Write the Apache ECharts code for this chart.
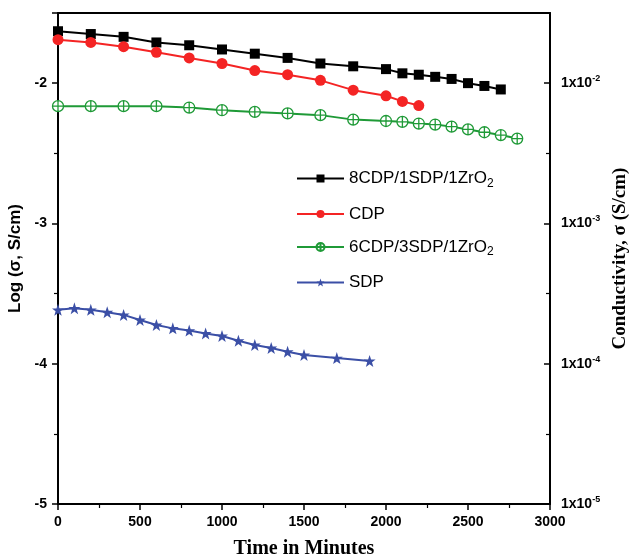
<!DOCTYPE html>
<html>
<head>
<meta charset="utf-8">
<script src="https://cdn.jsdelivr.net/npm/echarts@6/dist/echarts.min.js"></script>
<style>html,body{margin:0;padding:0;background:#fff}#c{width:635px;height:558px}</style>
</head>
<body>
<div id="c"></div>
<script>
// Time (minutes)
const timeA = [0,200,400,600,800,1000,1200,1400,1600,1800,2000,2100,2200,2300,2400,2500,2600,2700];
const logA  = [-1.63,-1.65,-1.67,-1.71,-1.73,-1.76,-1.79,-1.82,-1.86,-1.88,-1.90,-1.93,-1.94,-1.955,-1.97,-2.00,-2.02,-2.045];

const timeB = [0,200,400,600,800,1000,1200,1400,1600,1800,2000,2100,2200];
const logB  = [-1.69,-1.71,-1.74,-1.78,-1.82,-1.86,-1.91,-1.94,-1.98,-2.05,-2.09,-2.13,-2.16];

const timeC = [0,200,400,600,800,1000,1200,1400,1600,1800,2000,2100,2200,2300,2400,2500,2600,2700,2800];
const logC  = [-2.164,-2.164,-2.164,-2.164,-2.174,-2.193,-2.205,-2.216,-2.228,-2.26,-2.27,-2.276,-2.288,-2.295,-2.31,-2.33,-2.35,-2.37,-2.395];

const timeD = [0,100,200,300,400,500,600,700,800,900,1000,1100,1200,1300,1400,1500,1700,1900];
const logD  = [-3.616,-3.605,-3.616,-3.633,-3.652,-3.688,-3.724,-3.748,-3.764,-3.784,-3.802,-3.836,-3.866,-3.888,-3.914,-3.938,-3.96,-3.98];

const seriesNames = ['8CDP/1SDP/1ZrO{sub|2}','CDP','6CDP/3SDP/1ZrO{sub|2}','SDP'];
const xTicks = [0,500,1000,1500,2000,2500,3000];
const yTicks = [-5,-4,-3,-2];

const pair = (xs, ys) => xs.map((x,i)=>[x, ys[i]]);

const circlePlus = 'path://M0,10 C0,4.48 4.48,0 10,0 C15.52,0 20,4.48 20,10 C20,15.52 15.52,20 10,20 C4.48,20 0,15.52 0,10 Z M10,0 L10,20 M0,10 L20,10';
const star = 'path://M10,0 L12.35,6.9 L19.5,6.9 L13.8,11.2 L15.9,18.1 L10,14 L4.1,18.1 L6.2,11.2 L0.5,6.9 L7.65,6.9 Z';

const chart = echarts.init(document.getElementById('c'), null, {renderer:'canvas'});
const axisFont = {fontFamily:'Liberation Sans, Arial, sans-serif', fontWeight:'bold', fontSize:14, color:'#000'};

chart.setOption({
  animation:false,
  backgroundColor:'#fff',
  grid:{left:58, right:85, top:13, bottom:54, containLabel:false, outerBoundsMode:'none'},
  legend:{
    left:296, top:170, padding:0, orient:'vertical', itemWidth:47, itemHeight:10, itemGap:16,
    textStyle:{fontFamily:'Liberation Sans, Arial, sans-serif', fontSize:17, color:'#000',
      rich:{sub:{fontFamily:'Liberation Sans, Arial, sans-serif', fontSize:12, color:'#000', padding:[10,0,0,0]}}},
    data: seriesNames
  },
  xAxis:[{
    type:'value', min:0, max:3000, interval:500, position:'bottom',
    name:'Time in Minutes', nameLocation:'middle', nameGap:35,
    nameTextStyle:{fontFamily:'Liberation Serif, Times New Roman, serif', fontWeight:'bold', fontSize:20, color:'#000'},
    axisLine:{show:true, lineStyle:{color:'#000', width:2}},
    axisTick:{show:true, inside:false, length:6, lineStyle:{color:'#000', width:1.5}},
    minorTick:{show:true, splitNumber:2, length:4, lineStyle:{color:'#000', width:1.2}},
    axisLabel:Object.assign({margin:11, formatter:v=>xTicks.includes(v)?String(v):''}, axisFont),
    splitLine:{show:false}
  },{
    type:'value', min:0, max:3000, position:'top',
    axisLine:{show:true, lineStyle:{color:'#000', width:2}},
    axisTick:{show:false}, axisLabel:{show:false}, splitLine:{show:false}
  }],
  yAxis:[{
    type:'value', min:-5, max:-1.5, interval:1, position:'left',
    name:'Log (σ, S/cm)', nameLocation:'middle', nameRotate:90, nameGap:29,
    nameTextStyle:{fontFamily:'Liberation Sans, Arial, sans-serif', fontWeight:'bold', fontSize:17, color:'#000'},
    axisLine:{show:true, onZero:false, lineStyle:{color:'#000', width:2}},
    axisTick:{show:true, inside:false, length:6, lineStyle:{color:'#000', width:1.5}},
    minorTick:{show:true, splitNumber:2, length:4, lineStyle:{color:'#000', width:1.2}},
    axisLabel:Object.assign({margin:11, formatter:v=>yTicks.includes(v)?String(v):''}, axisFont),
    splitLine:{show:false}
  },{
    type:'value', min:-5, max:-1.5, interval:1, position:'right',
    name:'Conductivity, σ (S/cm)', nameLocation:'middle', nameRotate:90, nameGap:55,
    nameTextStyle:{fontFamily:'Liberation Serif, Times New Roman, serif', fontWeight:'bold', fontSize:19, color:'#000'},
    axisLine:{show:true, onZero:false, lineStyle:{color:'#000', width:2}},
    axisTick:{show:true, inside:true, length:6, lineStyle:{color:'#000', width:1.5}},
    minorTick:{show:true, splitNumber:2, length:4, lineStyle:{color:'#000', width:1.2}},
    axisLabel:Object.assign({margin:11,
      formatter:v=>yTicks.includes(v)?('1x10{sup|'+v+'}'):'',
      rich:{sup:{fontFamily:'Liberation Sans, Arial, sans-serif', fontWeight:'bold', fontSize:9, color:'#000', padding:[0,0,9,0]}}
    }, axisFont),
    splitLine:{show:false}
  }],
  series:[
    {name:seriesNames[0], type:'line', data:pair(timeA,logA), symbol:'rect', symbolSize:10,
     itemStyle:{color:'#000'}, lineStyle:{color:'#000', width:2}},
    {name:seriesNames[1], type:'line', data:pair(timeB,logB), symbol:'circle', symbolSize:11,
     itemStyle:{color:'#f42424'}, lineStyle:{color:'#f42424', width:2}},
    {name:seriesNames[2], type:'line', data:pair(timeC,logC), symbol:circlePlus, symbolSize:11,
     itemStyle:{color:'#fff', borderColor:'#1f9a37', borderWidth:1.3}, lineStyle:{color:'#1f9a37', width:2}},
    {name:seriesNames[3], type:'line', data:pair(timeD,logD), symbol:star, symbolSize:12,
     itemStyle:{color:'#3b4fa6'}, lineStyle:{color:'#3b4fa6', width:2}}
  ]
});
</script>
</body>
</html>
